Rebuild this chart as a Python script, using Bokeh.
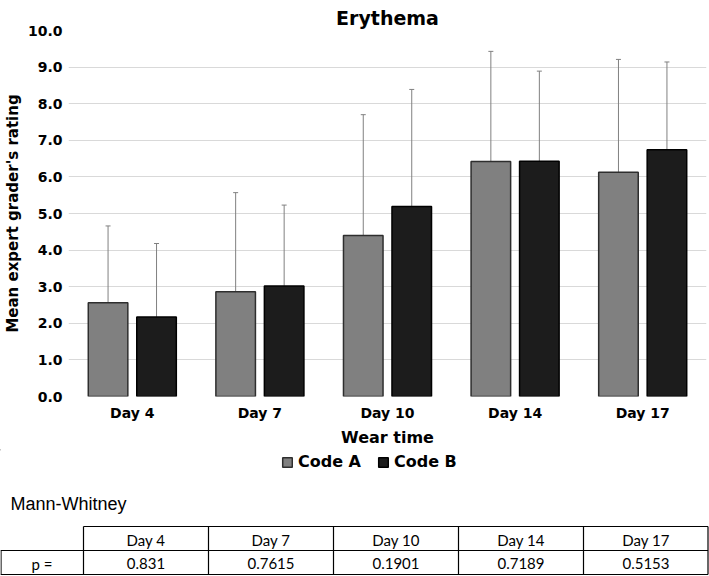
from bokeh.plotting import figure
from bokeh.models import (ColumnDataSource, Range1d, NumeralTickFormatter,
                          Whisker, TeeHead, Legend, LegendItem)
from bokeh.embed import file_html
from bokeh.resources import INLINE
from bokeh.core.properties import value

# data
days = ["Day 4", "Day 7", "Day 10", "Day 14", "Day 17"]
code_a_mean = [2.56, 2.86, 4.40, 6.42, 6.13]
code_a_sd = [2.10, 2.71, 3.30, 3.01, 3.08]
code_b_mean = [2.17, 3.02, 5.19, 6.43, 6.74]
code_b_sd = [2.01, 2.21, 3.20, 2.46, 2.40]
y_ticks = [0, 1, 2, 3, 4, 5, 6, 7, 8, 9, 10]
p_values = ["0.831", "0.7615", "0.1901", "0.7189", "0.5153"]

FONT = "DejaVu Sans"
W = 709
OFF = 0.19   # half distance between the two bars of a day
BAR_W = 0.31
STYLE_A = dict(fill_color="#808080", line_color="#2e2e2e", line_width=1.5)
STYLE_B = dict(fill_color="#1c1c1c", line_color="#000000", line_width=1.5)

idx = list(range(len(days)))
src_a = ColumnDataSource(dict(
    x=[i - OFF for i in idx], top=code_a_mean,
    upper=[m + s for m, s in zip(code_a_mean, code_a_sd)]))
src_b = ColumnDataSource(dict(
    x=[i + OFF for i in idx], top=code_b_mean,
    upper=[m + s for m, s in zip(code_b_mean, code_b_sd)]))

PH = 449
p = figure(width=W, height=PH, x_range=Range1d(-0.5, len(days) - 0.5),
           y_range=Range1d(0, 10), title="Erythema",
           output_backend="svg", toolbar_location=None,
           min_border_left=0, min_border_right=3, min_border_top=30,
           min_border_bottom=0)
p.outline_line_color = None
p.title.align = "center"
p.title.vertical_align = "top"
p.title.text_font = FONT
p.title.text_font_size = "19px"
p.title.text_font_style = "bold"
p.title.text_color = "black"
p.title.standoff = 0

p.vbar(x="x", top="top", width=BAR_W, bottom=0, source=src_a, **STYLE_A)
p.vbar(x="x", top="top", width=BAR_W, bottom=0, source=src_b, **STYLE_B)

for src in (src_a, src_b):
    w = Whisker(base="x", lower="top", upper="upper", source=src,
                line_color="#808080", line_width=1,
                upper_head=TeeHead(size=5, line_color="#808080", line_width=1),
                lower_head=None)
    p.add_layout(w)

p.xgrid.visible = False
p.ygrid.ticker = y_ticks
p.ygrid.grid_line_color = "#d9d9d9"
p.ygrid.grid_line_width = 1

p.yaxis.ticker = y_ticks
p.yaxis.formatter = NumeralTickFormatter(format="0.0")
p.xaxis.ticker = idx
p.xaxis.major_label_overrides = {i: d for i, d in zip(idx, days)}

for ax in (p.xaxis[0], p.yaxis[0]):
    ax.axis_line_color = None
    ax.major_tick_line_color = None
    ax.minor_tick_line_color = None
    ax.major_tick_out = 0
    ax.major_tick_in = 0
    ax.minor_tick_out = 0
    ax.minor_tick_in = 0
    ax.major_label_text_font = FONT
    ax.major_label_text_font_size = "14px"
    ax.major_label_text_font_style = "bold"
    ax.major_label_text_color = "black"
    ax.axis_label_text_font = FONT
    ax.axis_label_text_font_style = "bold"
    ax.axis_label_text_color = "black"

p.yaxis.axis_label = "Mean expert grader's rating"
p.yaxis.axis_label_text_font_size = "15px"
p.yaxis.major_label_standoff = 6
p.yaxis.axis_label_standoff = 3
p.xaxis.axis_label = "Wear time"
p.xaxis.axis_label_text_font_size = "16px"
p.xaxis.major_label_standoff = 8
p.xaxis.axis_label_standoff = 4

# legend + Mann-Whitney table
TH = 575 - PH
t = figure(width=W, height=TH, x_range=Range1d(0, W), y_range=Range1d(TH, 0),
           output_backend="svg", toolbar_location=None,
           x_axis_location=None, y_axis_location=None,
           min_border=0)
t.outline_line_color = None
t.grid.visible = False

# stand-in renderers (outside the visible range) so the legend can draw its swatches
proxy = dict(x=[-100], top=[0])
la = t.vbar(x="x", top="top", width=1, source=ColumnDataSource(proxy), **STYLE_A)
lb = t.vbar(x="x", top="top", width=1, source=ColumnDataSource(proxy), **STYLE_B)
legend = Legend(items=[LegendItem(label="Code A", renderers=[la]),
                       LegendItem(label="Code B", renderers=[lb])],
                orientation="horizontal", location=(281, TH - 22),
                margin=0, padding=3, spacing=16,
                glyph_width=12, glyph_height=12, label_standoff=5,
                label_text_font=FONT, label_text_font_size="16px",
                label_text_font_style="bold", label_text_color="black",
                border_line_color=None, background_fill_alpha=0)
t.add_layout(legend)

first_w = 83
col_w = 125
top_y = 77
row_h = 24
right_x = first_w + col_w * len(days) - 0.5

x0s = [first_w, 0, 0]
x1s = [right_x, right_x, right_x]
y0s = [top_y, top_y + row_h, top_y + 2 * row_h]
y1s = list(y0s)
for k in range(len(days) + 1):
    xk = min(first_w + k * col_w, right_x)
    x0s.append(xk)
    x1s.append(xk)
    y0s.append(top_y)
    y1s.append(top_y + 2 * row_h)
x0s.append(0.5)
x1s.append(0.5)
y0s.append(top_y + row_h)
y1s.append(top_y + 2 * row_h)
t.segment(x0=x0s, y0=y0s, x1=x1s, y1=y1s, line_color="black", line_width=1.2)

t.text(x=[10], y=[54], text=["Mann-Whitney"], text_font=value("Liberation Sans"),
       text_font_size="18px", text_baseline="middle", text_color="black")

cx = [first_w + col_w * (i + 0.5) for i in idx]
t.text(x=cx, y=[top_y + row_h / 2 + 1] * len(days), text=days,
       text_font=value("Lato"), text_font_size="15px", text_align="center",
       text_baseline="middle", text_color="black")
t.text(x=[first_w / 2] + cx, y=[top_y + row_h * 1.5 + 1] * (len(days) + 1),
       text=["p ="] + p_values,
       text_font=value("Lato"), text_font_size="15px", text_align="center",
       text_baseline="middle", text_color="black")

open("out.html", "w").write(file_html([p, t], INLINE))
